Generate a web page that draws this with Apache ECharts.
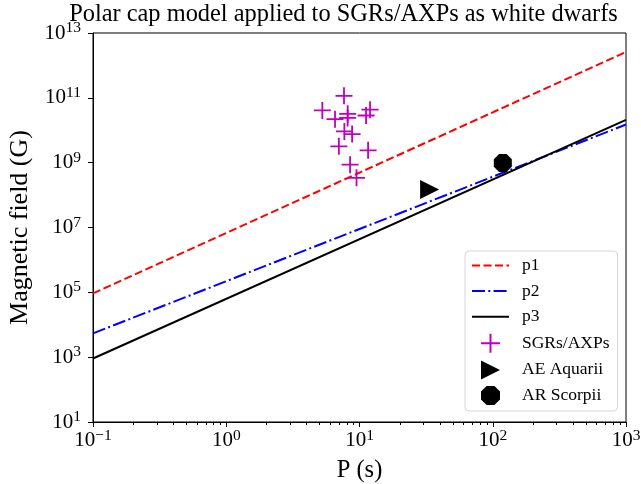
<!DOCTYPE html>
<html>
<head>
<meta charset="utf-8">
<script src="https://cdn.jsdelivr.net/npm/echarts@6/dist/echarts.min.js"></script>
<style>
  html, body { margin: 0; padding: 0; background: #fff; }
  #chart { width: 641px; height: 484px; }
</style>
</head>
<body>
<div id="chart"></div>
<script>
// Axis ranges
const periodRange = [0.1, 1000];     // P (s)
const fieldRange = [10, 1e13];       // B (G)

// Model lines, given at the ends of the period range
const lineP = [0.1, 1000];
const p1 = [9.3e4, 2.6e12];
const p2 = [5.4e3, 1.5e10];
const p3 = [9.1e2, 2.1e10];

// SGRs / AXPs
const sgrP = [7.65, 5.26, 6.55, 8.15, 8.15, 12.0, 11.2, 7.7, 8.8, 7.0, 11.6, 8.5, 9.5];
const sgrB = [1.15e11, 4.1e10, 2.2e10, 3.2e10, 2.4e10, 4.3e10, 2.85e10, 9.2e9, 7.6e9, 3.2e9, 2.4e9, 8.7e8, 3.4e8];

// White dwarf pulsars
const aeAquarii = [33.6, 1.5e8];
const arScorpii = [119, 9.8e8];

const lineNames = ['p1', 'p2', 'p3'];
const pointNames = ['SGRs/AXPs', 'AE Aquarii', 'AR Scorpii'];

const FONT = 'Liberation Serif, Times New Roman, serif';

// minor tick positions on the period axis (2..9 within each decade)
const minorTicks = [];
for (let d = -1; d < 3; d++) {
  for (let k = 2; k <= 9; k++) minorTicks.push(k * Math.pow(10, d));
}

function powLabel(v) {
  const e = Math.round(Math.log10(v));
  const s = e < 0 ? '\u2212' + (-e) : String(e);
  return '{b|10}{s|' + s + '}';
}

const tickRich = {
  b: { fontFamily: FONT, fontSize: 21, color: '#000', lineHeight: 21 },
  s: { fontFamily: FONT, fontSize: 15.5, color: '#000', lineHeight: 15, padding: [0, 0, 10, 0] }
};

const zip = (xs, ys) => xs.map((x, i) => [x, ys[i]]);

const plusSymbol = 'path://M0,5L10,5M5,0L5,10';
const triangleRight = 'path://M0,0L10,5L0,10Z';
const octagon = 'path://M2.93,0L7.07,0L10,2.93L10,7.07L7.07,10L2.93,10L0,7.07L0,2.93Z';

const chart = echarts.init(document.getElementById('chart'), null, { renderer: 'canvas' });

chart.setOption({
  animation: false,
  backgroundColor: '#fff',
  title: {
    text: 'Polar cap model applied to SGRs/AXPs as white dwarfs',
    left: 338.5,
    textAlign: 'center',
    top: -2,
    textStyle: { fontFamily: FONT, fontSize: 24.4, fontWeight: 'normal', color: '#000' }
  },
  grid: {
    left: 93, right: 15, top: 33, bottom: 62,
    containLabel: false,
    outerBoundsMode: 'none',
    show: true, borderColor: '#000', borderWidth: 1, backgroundColor: 'transparent'
  },
  legend: {
    // line entries show only their stroke, no marker
    data: lineNames.map(n => ({ name: n, itemStyle: { opacity: 0 } }))
      .concat(pointNames.map(n => ({ name: n }))),
    orient: 'vertical',
    left: 465,
    top: 251,
    itemWidth: 37,
    itemHeight: 19,
    itemGap: 6.6,
    padding: [5, 8, 6, 6],
    backgroundColor: '#fff',
    borderColor: '#d6d6d6',
    borderWidth: 1,
    borderRadius: 4,
    textStyle: { fontFamily: FONT, fontSize: 17.5, color: '#000', lineHeight: 19, padding: [0, 0, 0, 8] }
  },
  xAxis: {
    type: 'log',
    logBase: 10,
    min: periodRange[0],
    max: periodRange[1],
    interval: 1,
    name: 'P (s)',
    nameLocation: 'middle',
    nameGap: 34,
    nameTextStyle: { fontFamily: FONT, fontSize: 24.5, color: '#000' },
    axisLine: { show: true, onZero: false, lineStyle: { color: '#000', width: 1 } },
    axisTick: { show: true, inside: false, length: 5, lineStyle: { color: '#000', width: 1 } },
    axisLabel: { formatter: powLabel, rich: tickRich, margin: 8, color: '#000' },
    splitLine: { show: false },
    minorTick: { show: false }
  },
  yAxis: {
    type: 'log',
    logBase: 10,
    min: fieldRange[0],
    max: fieldRange[1],
    interval: 2,
    name: 'Magnetic field (G)',
    nameLocation: 'middle',
    nameGap: 57,
    nameRotate: 90,
    nameTextStyle: { fontFamily: FONT, fontSize: 26, color: '#000' },
    axisLine: { show: true, onZero: false, lineStyle: { color: '#000', width: 1 } },
    axisTick: { show: true, inside: false, length: 5, lineStyle: { color: '#000', width: 1 } },
    axisLabel: { formatter: powLabel, rich: tickRich, margin: 12, color: '#000' },
    splitLine: { show: false }
  },
  series: [
    {
      name: 'p1', type: 'line', symbol: 'none', data: zip(lineP, p1),
      lineStyle: { color: '#ff0000', width: 2, type: [8, 3.5] },
      itemStyle: { color: '#ff0000' }, z: 3
    },
    {
      name: 'p2', type: 'line', symbol: 'none', data: zip(lineP, p2),
      lineStyle: { color: '#0000ff', width: 2, type: [13, 3.3, 2, 3.3] },
      itemStyle: { color: '#0000ff' }, z: 3
    },
    {
      name: 'p3', type: 'line', symbol: 'none', data: zip(lineP, p3),
      lineStyle: { color: '#000000', width: 2, type: 'solid' },
      itemStyle: { color: '#000000' }, z: 3
    },
    {
      name: 'SGRs/AXPs', type: 'scatter', data: zip(sgrP, sgrB),
      symbol: plusSymbol, symbolSize: 17,
      itemStyle: { color: 'rgba(0,0,0,0)', borderColor: '#bf00bf', borderWidth: 1.8, opacity: 1 }, z: 4
    },
    {
      name: 'AE Aquarii', type: 'scatter', data: [aeAquarii],
      symbol: triangleRight, symbolSize: 19,
      itemStyle: { color: '#000', opacity: 1 }, z: 4
    },
    {
      name: 'AR Scorpii', type: 'scatter', data: [arScorpii],
      symbol: octagon, symbolSize: 18,
      itemStyle: { color: '#000', opacity: 1 }, z: 4
    },
    {
      name: 'minor-ticks', type: 'custom', silent: true, clip: false, z: 5,
      data: minorTicks.map(v => [v, fieldRange[0]]),
      renderItem: function (params, api) {
        const p = api.coord([api.value(0), api.value(1)]);
        return {
          type: 'line',
          shape: { x1: Math.round(p[0]) + 0.5, y1: p[1], x2: Math.round(p[0]) + 0.5, y2: p[1] + 3 },
          style: { stroke: '#000', lineWidth: 1 }
        };
      }
    }
  ]
});
</script>
</body>
</html>
